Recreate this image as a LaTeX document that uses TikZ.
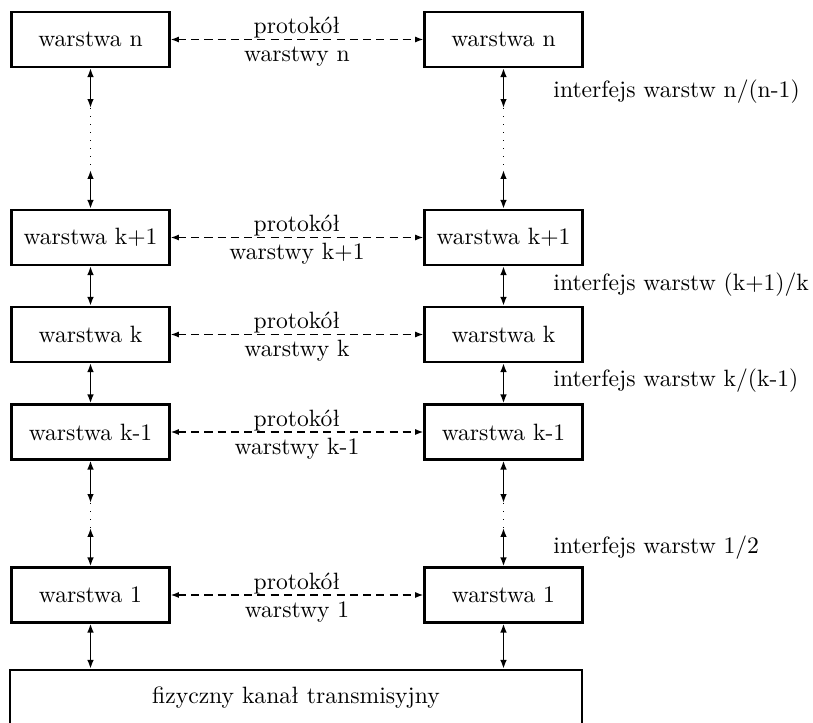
\documentclass[tikz,border=0pt]{standalone}
\usetikzlibrary{arrows.meta}
\begin{document}
\begin{tikzpicture}[x=0.4237pt,y=-0.4237pt,
  layerbox/.style={draw, line width=0.9pt, inner sep=0pt,
    minimum width=66.9pt, minimum height=23.3pt},
  chanbox/.style={draw, line width=0.9pt, inner sep=0pt,
    minimum width=242.4pt, minimum height=23.3pt},
  updown/.style={line width=0.8pt, {Latex[length=3.8pt,width=2.8pt]}-{Latex[length=3.8pt,width=2.8pt]}},
  peer/.style={line width=0.6pt, dash pattern=on 3.4pt off 2.2pt,
    {Latex[length=3.5pt,width=2.5pt]}-{Latex[length=3.5pt,width=2.5pt]}},
  gap/.style={line width=0.45pt, dash pattern=on 0.4pt off 3pt},
  proto/.style={align=center, inner sep=0pt},
  iface/.style={anchor=west, inner sep=0pt}]
\useasboundingbox (0,0) rectangle (813,723);

% layer stacks of the two communicating systems
\node[layerbox] (Ln)  at (90.5,39.5)  {warstwa n};
\node[layerbox] (Rn)  at (503.5,39.5) {warstwa n};
\node[layerbox] (Lkp) at (90.5,237.5) {warstwa k+1};
\node[layerbox] (Rkp) at (503.5,237.5){warstwa k+1};
\node[layerbox] (Lk)  at (90.5,334.5) {warstwa k};
\node[layerbox] (Rk)  at (503.5,334.5){warstwa k};
\node[layerbox] (Lkm) at (90.5,432)   {warstwa k-1};
\node[layerbox] (Rkm) at (503.5,432)  {warstwa k-1};
\node[layerbox] (L1)  at (90.5,595)   {warstwa 1};
\node[layerbox] (R1)  at (503.5,595)  {warstwa 1};
\node[chanbox]  (ch)  at (296,697.5)  {fizyczny kanał transmisyjny};

% peer-to-peer protocols
\foreach \a/\b/\t in {Ln/Rn/n, Lkp/Rkp/k+1, Lk/Rk/k, Lkm/Rkm/k-1, L1/R1/1}{
  \draw[peer] (\a.east) -- (\b.east -| \b.west) node[proto, midway, yshift=-1pt] (p\a) {protokół\\warstwy \t};
}

% omitted layers between n and k+1, and between k-1 and 1
\foreach \c/\x in {L/90.5, R/503.5}{
  \coordinate (\c na) at (\x,108);
  \coordinate (\c nb) at (\x,170);
  \coordinate (\c ma) at (\x,503);
  \coordinate (\c mb) at (\x,528);
  \draw[updown] (\c n.south) -- (\c na);
  \draw[gap] (\c na) -- (\c nb);
  \draw[updown] (\c nb) -- (\c kp.north);
  \draw[updown] (\c kp.south) -- (\c k.north);
  \draw[updown] (\c k.south) -- (\c km.north);
  \draw[updown] (\c km.south) -- (\c ma);
  \draw[gap] (\c ma) -- (\c mb);
  \draw[updown] (\c mb) -- (\c 1.north);
  \draw[updown] (\c 1.south) -- (ch.north -| \c 1);
}

% interface labels
\node[iface] (i1) at (553,92)  {interfejs warstw n/(n-1)};
\node[iface] (i2) at (553,285) {interfejs warstw (k+1)/k};
\node[iface] (i3) at (553,381) {interfejs warstw k/(k-1)};
\node[iface] (i4) at (553,548) {interfejs warstw 1/2};
\end{tikzpicture}
\end{document}
